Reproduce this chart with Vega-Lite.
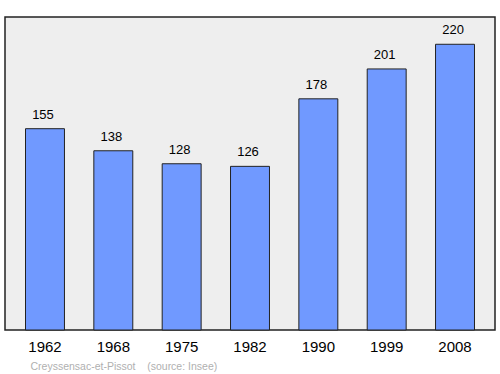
{
  "$schema": "https://vega.github.io/schema/vega-lite/v6.json",
  "width": 490,
  "height": 313,
  "autosize": {"type": "none"},
  "padding": {"left": 5, "top": 17, "right": 5, "bottom": 44},
  "background": "white",
  "config": {
    "font": "Liberation Sans",
    "view": {"fill": "#eeeeee", "stroke": "#222222", "strokeWidth": 1.5}
  },
  "data": {
    "values": [
      {"year": "1962", "pop": 155},
      {"year": "1968", "pop": 138},
      {"year": "1975", "pop": 128},
      {"year": "1982", "pop": 126},
      {"year": "1990", "pop": 178},
      {"year": "1999", "pop": 201},
      {"year": "2008", "pop": 220}
    ]
  },
  "encoding": {
    "x": {
      "field": "year",
      "type": "ordinal",
      "scale": {"paddingInner": 0.43, "paddingOuter": 0.3},
      "axis": {
        "labelAngle": 0,
        "labelFontSize": 15,
        "labelFontWeight": "normal",
        "labelColor": "#000000",
        "labelPadding": 9,
        "ticks": false,
        "domain": false,
        "title": "Creyssensac-et-Pissot\u00a0\u00a0\u00a0\u00a0(source: Insee)",
        "titleFontSize": 10.5,
        "titleFontWeight": "normal",
        "titleColor": "#b0b0b0",
        "titleAnchor": "start",
        "titleAlign": "left",
        "titleX": 25,
        "titlePadding": 7
      }
    },
    "y": {
      "field": "pop",
      "type": "quantitative",
      "scale": {"domain": [0, 241], "nice": false},
      "axis": null
    }
  },
  "layer": [
    {
      "mark": {"type": "bar", "fill": "#7099ff", "stroke": "#222222", "strokeWidth": 1}
    },
    {
      "mark": {"type": "text", "baseline": "bottom", "dy": -7, "dx": -2, "fontSize": 13, "color": "#000000"},
      "encoding": {"text": {"field": "pop", "type": "quantitative"}}
    }
  ]
}
